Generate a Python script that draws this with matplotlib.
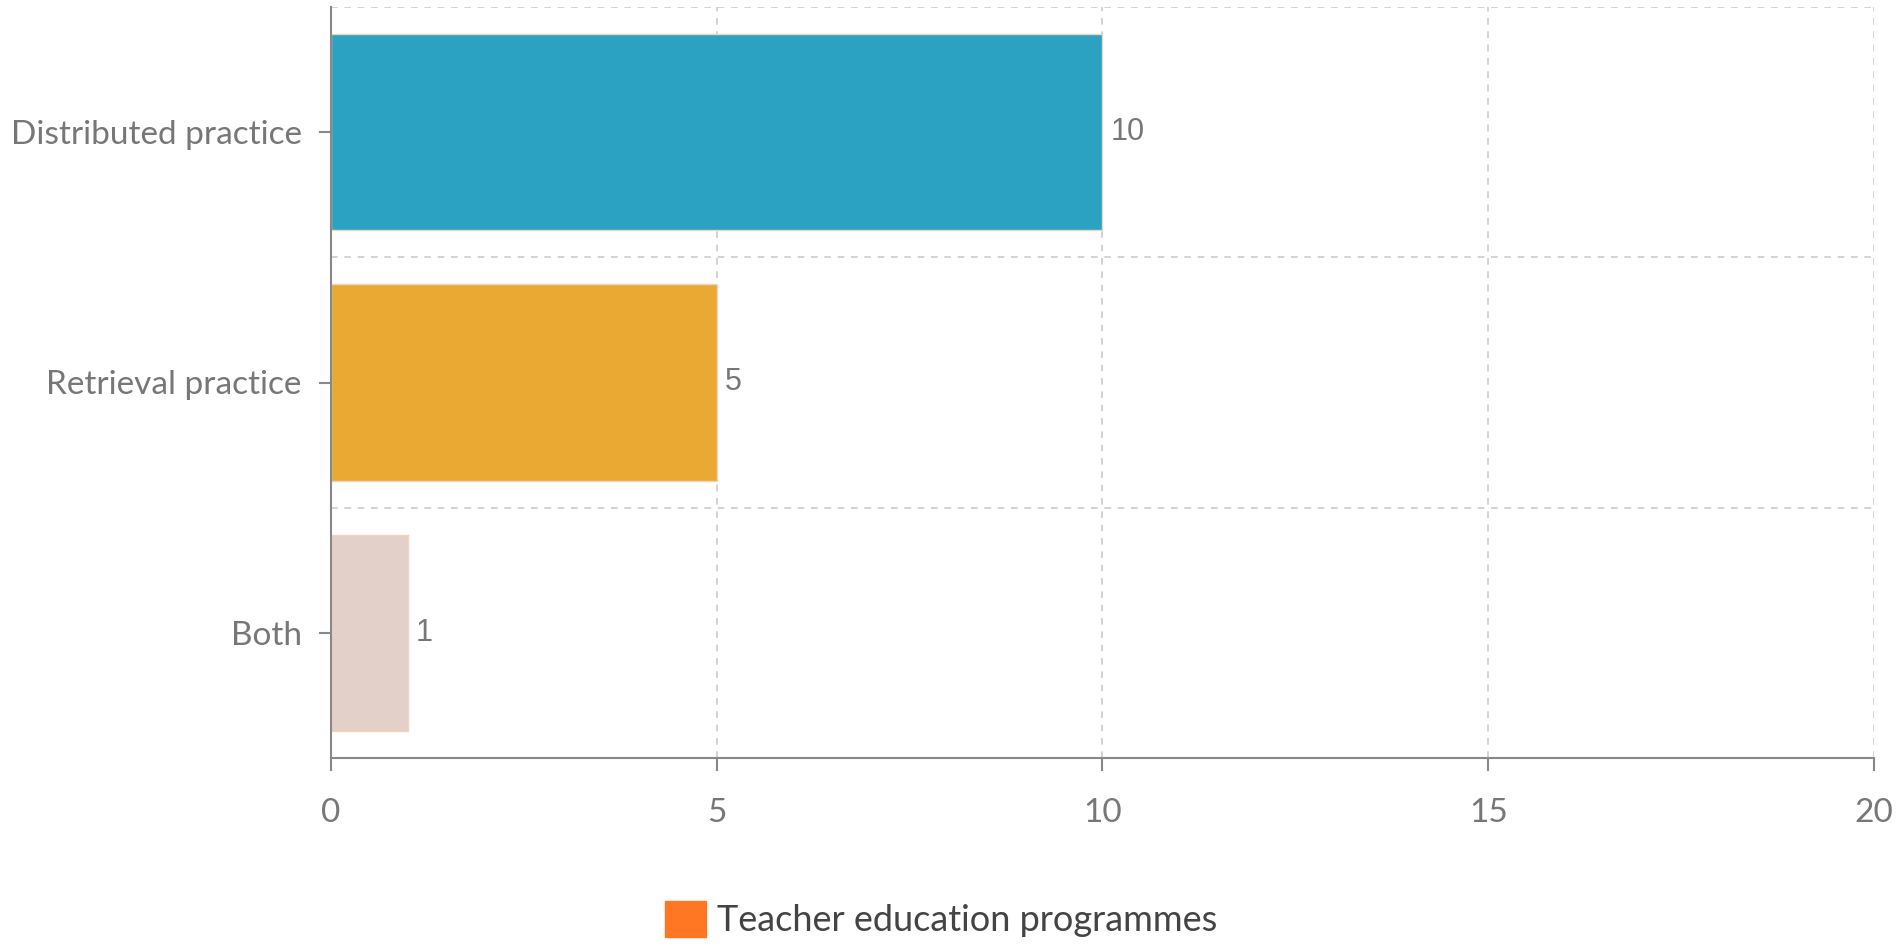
import matplotlib
matplotlib.use("Agg")
import matplotlib.pyplot as plt
from matplotlib.patches import Patch

categories = ["Distributed practice", "Retrieval practice", "Both"]
values = [10, 5, 1]
bar_colors = ["#2CA2C2", "#E9A933", "#E3D0C8"]
x_ticks = [0, 5, 10, 15, 20]
series_name = "Teacher education programmes"

W, H = 1899, 948
fig = plt.figure(figsize=(W / 100, H / 100), dpi=100)
ax = fig.add_axes([331 / W, 1 - 758 / H, (1874 - 331) / W, (758 - 7) / H])

pos = list(range(len(categories)))
ax.barh(pos, values, height=0.785, color=bar_colors, edgecolor="#F3D3C0",
        linewidth=1.0, zorder=3)
for p, v in zip(pos, values):
    ax.text(v + 0.1, p, str(v), va="center", ha="left", fontsize=22,
            color="#777777", family="Liberation Sans", zorder=4)

ax.set_xlim(0, 20)
ax.set_ylim(len(categories) - 0.5, -0.5)
ax.set_xticks(x_ticks)
ax.set_xticklabels([str(t) for t in x_ticks])
ax.set_yticks(pos)
ax.set_yticklabels(categories)
ax.set_yticks([i - 0.5 for i in range(len(categories) + 1)], minor=True)

ax.grid(axis="x", which="major", color="#CCCCCC", linestyle=(0, (4, 4)), linewidth=1.2, zorder=0)
ax.grid(axis="y", which="minor", color="#CCCCCC", linestyle=(0, (4, 4)), linewidth=1.2, zorder=0)
ax.tick_params(axis="y", which="minor", length=0)
ax.tick_params(axis="both", which="major", length=9, width=1.5, color="#888888",
               labelcolor="#777777", labelsize=24, pad=12)
ax.tick_params(axis="x", which="major", pad=20)
for lab in ax.get_xticklabels() + ax.get_yticklabels():
    lab.set_family("Lato")

for s in ["top", "right"]:
    ax.spines[s].set_visible(False)
for s in ["left", "bottom"]:
    ax.spines[s].set_color("#888888")
    ax.spines[s].set_linewidth(1.5)
    ax.spines[s].set_zorder(5)

handle = Patch(facecolor="#FF7722", edgecolor="#FF7722")
fig.legend([handle], [series_name], loc="center", bbox_to_anchor=(941 / W, 1 - 919 / H),
           frameon=False, handlelength=1.15, handleheight=1.15,
           handletextpad=0.3, prop={"family": "Lato", "size": 26},
           labelcolor="#444444")

fig.savefig("out.png", dpi=100)
